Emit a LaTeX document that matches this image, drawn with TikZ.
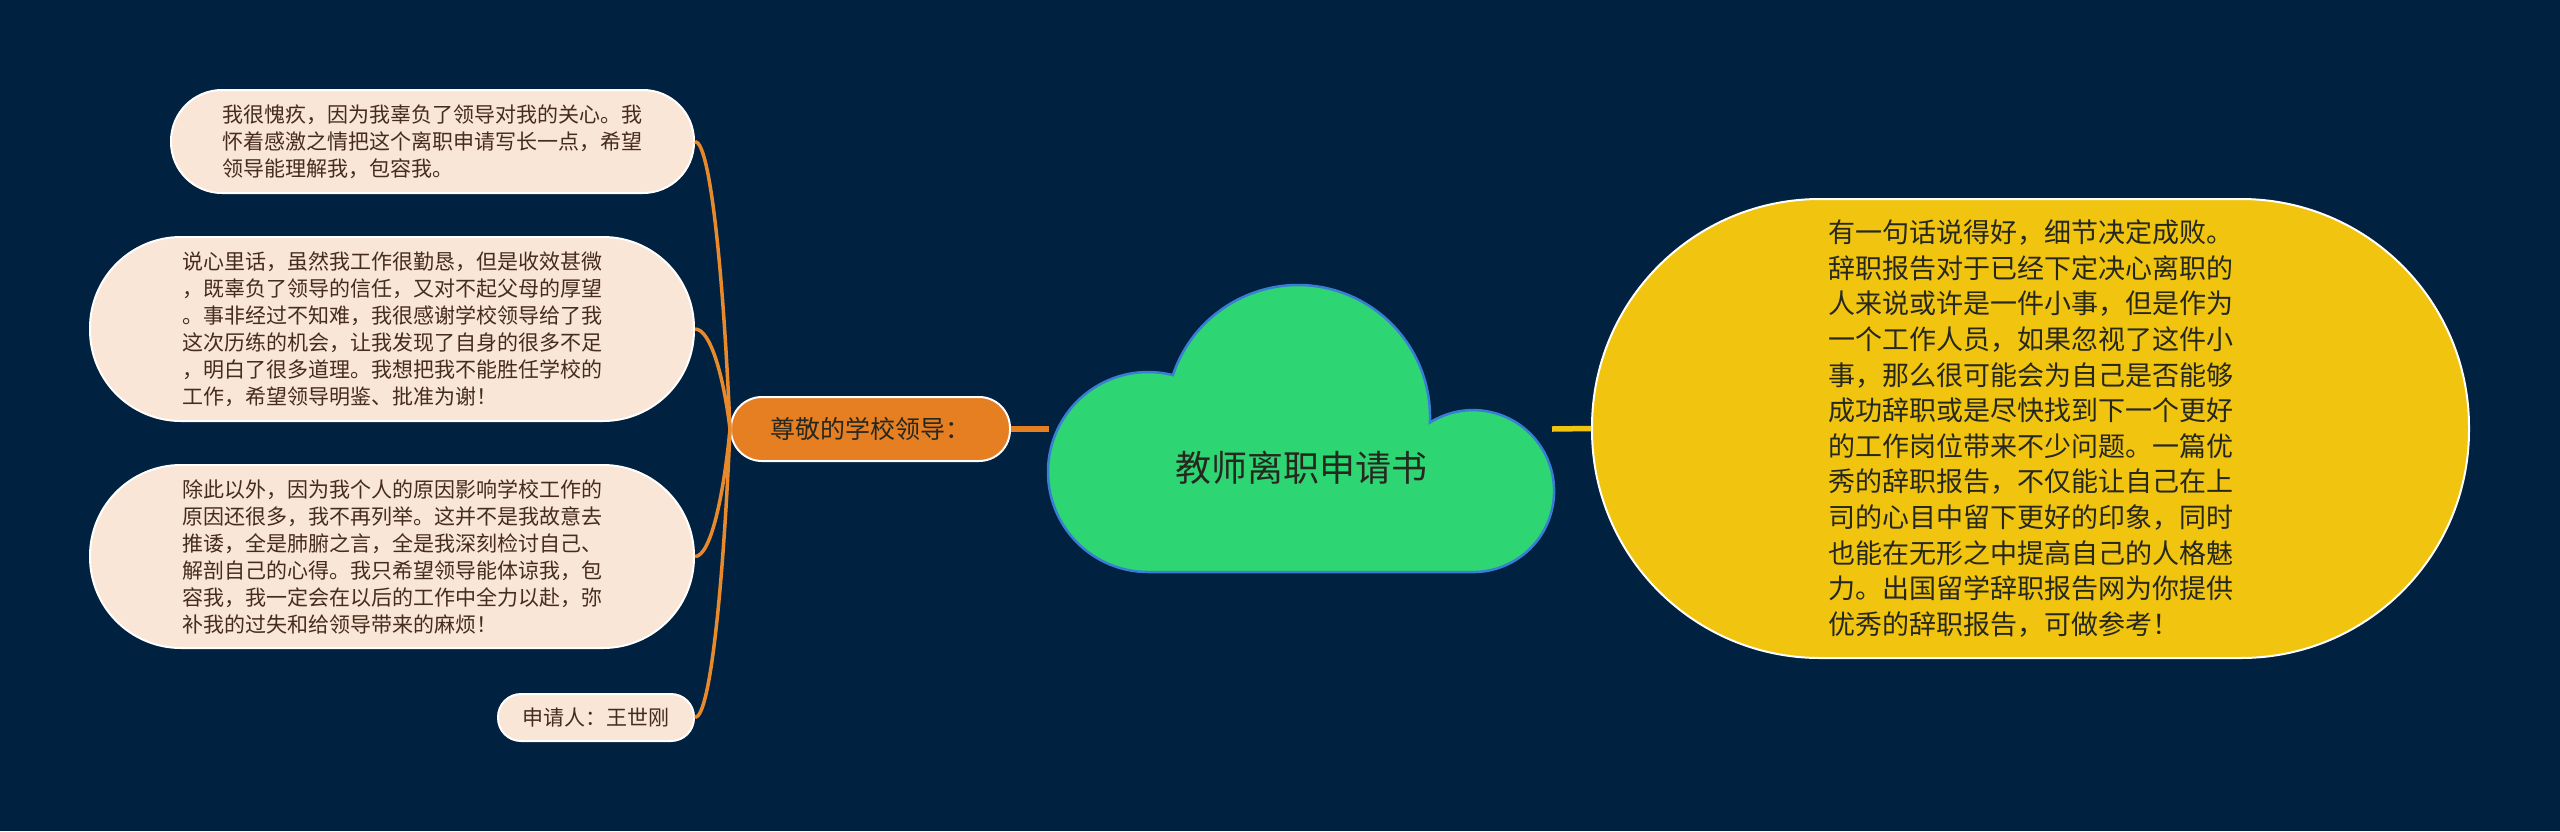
\documentclass[tikz,border=0pt]{standalone}
\usepackage{fontspec}
\newfontfamily\cjk{Noto Sans CJK SC}
\usepackage{tikz}
\usepackage{xcolor}
\definecolor{boardnavy}{RGB}{0, 34, 64}
\definecolor{leafpeach}{RGB}{250, 230, 214}
\definecolor{leadorange}{RGB}{230, 126, 34}
\definecolor{branchorange}{RGB}{232, 137, 44}
\definecolor{cloudgreen}{RGB}{46, 213, 115}
\definecolor{cloudblue}{RGB}{58, 125, 212}
\definecolor{noteyellow}{RGB}{241, 196, 15}
\definecolor{leafink}{RGB}{70, 44, 28}
\definecolor{darkink}{RGB}{38, 40, 30}
\usetikzlibrary{positioning}

\begin{document}
\begin{tikzpicture}[x=1pt, y=-1pt,
    leaf/.style={draw=white, line width=2pt, fill=leafpeach, text=leafink, align=left,
        inner sep=0pt, font=\cjk\fontsize{21}{27}\selectfont},
    branch/.style={branchorange, line width=3.5pt},
    trunk/.style={line width=5.5pt}]
    % Page and background
    \useasboundingbox (0,0) rectangle (2560,831);
    \fill[boardnavy] (0,0) rectangle (2560,831);

    % Left leaves
    \node[leaf, minimum width=523pt, minimum height=103pt, rounded corners=51pt] (guilt) at (432.5,141.5)
        {我很愧疚，因为我辜负了领导对我的关心。我\\怀着感激之情把这个离职申请写长一点，希望\\领导能理解我，包容我。};
    \node[leaf, minimum width=604pt, minimum height=184pt, rounded corners=91pt] (diligence) at (392,329)
        {说心里话，虽然我工作很勤恳，但是收效甚微\\，既辜负了领导的信任，又对不起父母的厚望\\。事非经过不知难，我很感谢学校领导给了我\\这次历练的机会，让我发现了自身的很多不足\\，明白了很多道理。我想把我不能胜任学校的\\工作，希望领导明鉴、批准为谢！};
    \node[leaf, minimum width=604pt, minimum height=183pt, rounded corners=91pt] (reasons) at (392,556.5)
        {除此以外，因为我个人的原因影响学校工作的\\原因还很多，我不再列举。这并不是我故意去\\推诿，全是肺腑之言，全是我深刻检讨自己、\\解剖自己的心得。我只希望领导能体谅我，包\\容我，我一定会在以后的工作中全力以赴，弥\\补我的过失和给领导带来的麻烦！};
    \node[leaf, minimum width=196pt, minimum height=47pt, rounded corners=23pt] (signer) at (596,717.5)
        {申请人：王世刚};

    % Greeting branch
    \node[draw=white, line width=2pt, fill=leadorange, text=darkink, inner sep=0pt,
        minimum width=279pt, minimum height=64pt, rounded corners=31pt,
        font=\cjk\fontsize{25}{30}\selectfont] (greeting) at (870.5,429) {尊敬的学校领导：};

    % Curved links to the leaves
    \draw[branch] (greeting.west) .. controls +(-6,-143) and +(16,0) .. (guilt.east);
    \draw[branch] (greeting.west) .. controls +(-6,-50) and +(16,0) .. (diligence.east);
    \draw[branch] (greeting.west) .. controls +(-6,64) and +(16,0) .. (reasons.east);
    \draw[branch] (greeting.west) .. controls +(-6,144) and +(16,0) .. (signer.east);

    % Central cloud
    \coordinate (cloudW) at (1049,429);
    \coordinate (cloudE) at (1552,429);
    \draw[trunk, leadorange] (greeting.east) -- (cloudW);
    \filldraw[fill=cloudgreen, draw=cloudblue, line width=2.5pt]
        (1148,572) arc[start angle=90, end angle=284.4, radius=100]
        arc[start angle=-161.5, end angle=2.4, radius=132]
        arc[start angle=-122.2, end angle=90, radius=81] -- cycle;
    \node[text=darkink, font=\cjk\fontsize{36}{40}\selectfont] (title) at (1301,468) {教师离职申请书};

    % Right note
    \node[draw=white, line width=2pt, fill=noteyellow, text=darkink, align=left, inner sep=0pt,
        minimum width=877pt, minimum height=459pt, rounded corners=228pt,
        font=\cjk\fontsize{27}{35.6}\selectfont] (advice) at (2030.5,428.5)
        {有一句话说得好，细节决定成败。\\辞职报告对于已经下定决心离职的\\人来说或许是一件小事，但是作为\\一个工作人员，如果忽视了这件小\\事，那么很可能会为自己是否能够\\成功辞职或是尽快找到下一个更好\\的工作岗位带来不少问题。一篇优\\秀的辞职报告，不仅能让自己在上\\司的心目中留下更好的印象，同时\\也能在无形之中提高自己的人格魅\\力。出国留学辞职报告网为你提供\\优秀的辞职报告，可做参考！};
    \draw[trunk, noteyellow] (cloudE) -- (advice.west);
\end{tikzpicture}
\end{document}
